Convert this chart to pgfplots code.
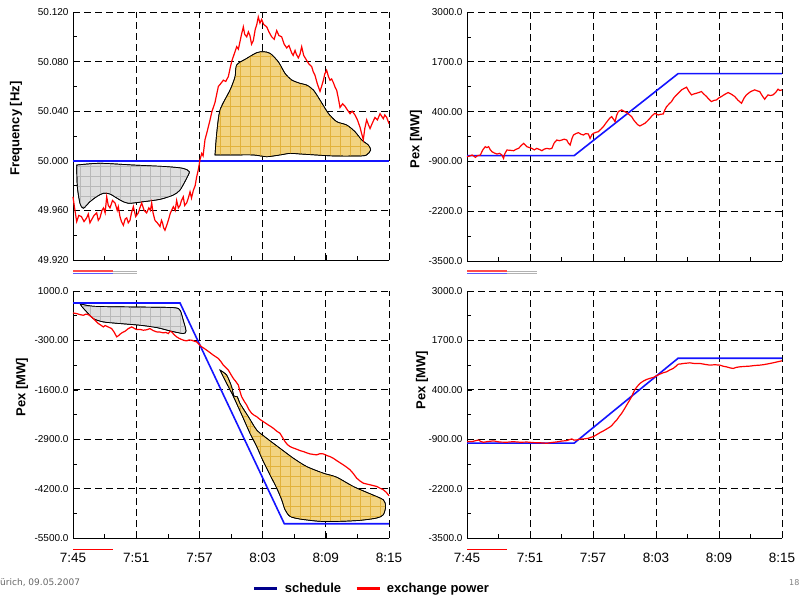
\documentclass[border=0pt]{standalone}
\usepackage{pgfplots}
\pgfplotsset{compat=1.18}
\usepackage{fontspec}
\setmainfont{Liberation Sans}
\newfontfamily\footfont{DejaVu Sans}
\usetikzlibrary{patterns.meta}
\definecolor{schedblue}{RGB}{20,20,255}
\definecolor{exred}{RGB}{255,0,0}
\definecolor{navyleg}{RGB}{0,0,140}
\definecolor{goldfill}{RGB}{242,212,130}
\definecolor{goldgrid}{RGB}{226,178,60}
\definecolor{grayfill}{RGB}{222,222,222}
\definecolor{graygrid}{RGB}{185,185,185}
\pgfplotsset{
  panel/.style={
    scale only axis, anchor=north west,
    xmin=0, xmax=30, xtick={0,6,...,30},
    minor x tick num=1, minor y tick num=1,
    axis x line*=bottom, axis y line*=left,
    axis line style={black, line width=0.9pt},
    grid=major,
    major grid style={black, dash pattern=on 7pt off 4pt, line width=0.7pt},
    tick style={black, line width=0.6pt},
    tick align=inside, major tick length=5pt, minor tick length=4pt,
    y tick label style={font=\fontsize{10}{12}\selectfont, xshift=-1pt},
    x tick label style={font=\fontsize{13.5}{15}\selectfont, yshift=-12pt},
    ylabel style={font=\bfseries\fontsize{13}{15}\selectfont, anchor=center, rotate=0},
    clip=false,
  },
  sched/.style={schedblue, line width=1.6pt, forget plot},
  exch/.style={exred, line width=1.2pt, forget plot},
  goldblob/.style={draw=black, line width=0.7pt, fill=goldfill, smooth, tension=0.45, forget plot,
     postaction={pattern={Hatch[distance=10pt, angle=0, line width=0.6pt]}, pattern color=goldgrid}},
  grayblob/.style={draw=black, line width=0.7pt, fill=grayfill, smooth, tension=0.45, forget plot,
     postaction={pattern={Hatch[distance=10pt, angle=0, line width=0.6pt]}, pattern color=graygrid}},
}
\begin{document}
\begin{tikzpicture}
\useasboundingbox (0pt,0pt) rectangle (799pt,-596pt);

% ---------------- Panel 1: frequency ----------------
\begin{axis}[panel, at={(73pt,-12pt)}, width=316pt, height=248pt,
  ymin=49.92, ymax=50.12, ytick={49.92,49.96,50.00,50.04,50.08,50.12},
  yticklabels={49.920,49.960,50.000,50.040,50.080,50.120},
  xticklabels={},
  ylabel={Frequency [Hz]}, ylabel style={at={(axis description cs:-0.18,0.53)}}]
\addplot[grayblob] coordinates {
(0.35,49.9966)(2.56,49.9980)(5.73,49.9966)(8.89,49.9953)(10.47,49.9939)(11.04,49.9912)
(10.79,49.9859)(10.16,49.9764)(9.53,49.9724)(8.26,49.9689)(6.68,49.9670)(5.25,49.9657)
(4.46,49.9684)(3.51,49.9732)(2.88,49.9738)(2.25,49.9711)(1.61,49.9670)(0.98,49.9617)
(0.66,49.9657)(0.41,49.9791)(0.35,49.9966)} -- cycle;
\addplot[goldblob] coordinates {
(13.48,50.0047)(13.64,50.0221)(13.96,50.0410)(14.91,50.0571)(15.38,50.0678)(15.54,50.0773)
(16.49,50.0826)(17.44,50.0872)(18.07,50.0880)(18.70,50.0867)(19.49,50.0799)(20.13,50.0705)
(20.76,50.0652)(21.55,50.0625)(22.18,50.0611)(22.82,50.0571)(23.45,50.0490)(24.24,50.0383)
(25.03,50.0316)(25.98,50.0289)(26.77,50.0235)(27.41,50.0168)(28.04,50.0127)(28.26,50.0087)
(27.88,50.0047)(27.25,50.0039)(24.72,50.0039)(21.55,50.0055)(20.60,50.0060)(19.65,50.0047)
(18.39,50.0033)(17.12,50.0047)(15.22,50.0047)(13.48,50.0047)} -- cycle;
\addplot[sched] coordinates {(0,50.0)(30,50.0)};
\addplot[exch] coordinates {
(0,49.971)(0.15,49.962)(0.35,49.951)(0.55,49.956)(0.8,49.955)(1.05,49.951)(1.30,49.954)
(1.45,49.957)(1.61,49.950)(1.8,49.953)(2.0,49.956)(2.25,49.958)(2.4,49.952)(2.56,49.954)
(2.75,49.960)(2.9,49.962)(3.05,49.958)(3.20,49.971)(3.35,49.964)(3.51,49.962)(3.75,49.968)
(3.99,49.966)(4.2,49.960)(4.3,49.963)(4.46,49.955)(4.6,49.951)(4.78,49.948)(4.95,49.953)
(5.1,49.954)(5.25,49.950)(5.41,49.952)(5.55,49.958)(5.73,49.963)(5.95,49.955)(6.20,49.958)
(6.35,49.962)(6.52,49.966)(6.75,49.960)(6.99,49.958)(7.2,49.962)(7.35,49.960)(7.47,49.966)
(7.6,49.958)(7.78,49.952)(8.0,49.950)(8.26,49.947)(8.4,49.952)(8.5,49.950)(8.6,49.946)
(8.73,49.944)(8.9,49.948)(9.05,49.952)(9.25,49.958)(9.53,49.963)(9.7,49.960)(9.84,49.968)
(10.0,49.962)(10.16,49.964)(10.3,49.968)(10.47,49.971)(10.6,49.964)(10.79,49.966)
(10.95,49.970)(11.11,49.975)(11.25,49.970)(11.42,49.976)(11.6,49.980)(11.74,49.987)
(11.9,49.993)(12.06,50.001)(12.22,50.006)(12.35,50.004)(12.53,50.017)(12.75,50.024)
(13.01,50.033)(13.2,50.040)(13.48,50.047)(13.6,50.052)(13.80,50.060)(14.0,50.062)
(14.27,50.065)(14.5,50.064)(14.75,50.068)(14.9,50.074)(15.06,50.080)(15.3,50.086)
(15.54,50.092)(15.7,50.090)(15.85,50.096)(16.0,50.102)(16.17,50.108)(16.3,50.102)
(16.49,50.100)(16.65,50.104)(16.80,50.101)(16.95,50.094)(17.12,50.097)(17.3,50.106)
(17.45,50.110)(17.59,50.116)(17.75,50.111)(17.91,50.114)(18.1,50.110)(18.39,50.108)
(18.6,50.104)(18.86,50.100)(19.1,50.098)(19.34,50.105)(19.55,50.101)(19.81,50.100)
(20.05,50.094)(20.29,50.091)(20.5,50.093)(20.76,50.087)(20.9,50.085)(21.08,50.089)
(21.2,50.086)(21.39,50.083)(21.55,50.086)(21.71,50.092)(21.9,50.085)(22.18,50.081)
(22.4,50.078)(22.66,50.076)(22.8,50.072)(22.97,50.069)(23.2,50.062)(23.45,50.056)
(23.6,50.060)(23.77,50.065)(23.9,50.070)(24.08,50.073)(24.25,50.068)(24.40,50.065)
(24.55,50.066)(24.72,50.063)(24.9,50.059)(25.03,50.057)(25.2,50.050)(25.35,50.043)
(25.6,50.046)(25.82,50.044)(26.05,50.041)(26.30,50.038)(26.5,50.040)(26.77,50.037)
(27.0,50.033)(27.25,50.027)(27.4,50.022)(27.56,50.017)(27.7,50.026)(27.88,50.033)
(28.05,50.029)(28.20,50.026)(28.45,50.031)(28.67,50.035)(28.9,50.033)(29.15,50.038)
(29.3,50.036)(29.46,50.034)(29.6,50.037)(29.78,50.035)(30.00,50.030)};
\end{axis}

% ---------------- Panel 2: top right ----------------
\begin{axis}[panel, at={(467pt,-12pt)}, width=315pt, height=249pt,
  ymin=-3500, ymax=3000, ytick={-3500,-2200,-900,400,1700,3000},
  yticklabels={-3500.0,-2200.0,-900.00,400.00,1700.0,3000.0},
  xticklabels={},
  ylabel={Pex [MW]}, ylabel style={at={(axis description cs:-0.162,0.49)}}]
\addplot[sched] coordinates {(0,-750)(10.2,-750)(20.1,1390)(30,1390)};
\addplot[exch] coordinates {
(0,-778)(0.25,-760)(0.48,-734)(0.65,-760)(0.79,-795)(1.0,-750)(1.27,-734)(1.5,-600)
(1.74,-516)(1.9,-540)(2.06,-516)(2.2,-590)(2.38,-647)(2.6,-680)(2.85,-708)(3.1,-690)
(3.33,-734)(3.48,-821)(3.6,-700)(3.80,-603)(4.1,-610)(4.44,-621)(4.7,-580)(4.91,-560)
(5.15,-490)(5.39,-429)(5.55,-470)(5.70,-516)(5.95,-540)(6.18,-560)(6.4,-600)(6.65,-560)
(6.9,-590)(7.13,-621)(7.35,-580)(7.60,-560)(7.85,-575)(8.08,-560)(8.3,-420)(8.55,-342)
(8.8,-360)(9.03,-342)(9.25,-320)(9.50,-342)(9.65,-420)(9.82,-473)(10.0,-300)(10.14,-211)
(10.4,-170)(10.61,-150)(10.85,-190)(11.09,-211)(11.3,-175)(11.56,-185)(11.72,-298)
(11.9,-200)(12.04,-167)(12.3,-140)(12.51,-124)(12.75,-60)(12.99,7)(13.2,90)(13.46,182)
(13.6,230)(13.78,269)(13.95,200)(14.10,138)(14.25,300)(14.41,400)(14.55,420)(14.73,444)
(14.95,410)(15.21,374)(15.45,320)(15.68,269)(15.85,190)(16.00,138)(16.25,60)(16.47,25)
(16.7,60)(16.95,95)(17.2,160)(17.42,226)(17.65,300)(17.90,356)(18.05,330)(18.22,313)
(18.45,330)(18.69,339)(18.85,450)(19.01,531)(19.25,600)(19.48,662)(19.7,760)(19.96,836)
(20.2,900)(20.43,967)(20.65,1000)(20.91,1037)(21.15,920)(21.38,836)(21.6,860)(21.86,880)
(22.1,900)(22.33,923)(22.55,860)(22.81,793)(23.05,720)(23.28,662)(23.5,690)(23.76,705)
(24.0,760)(24.23,793)(24.55,850)(24.87,897)(25.2,850)(25.50,793)(25.8,700)(26.14,618)
(26.4,760)(26.61,836)(27.0,920)(27.40,967)(27.65,940)(27.88,923)(28.1,820)(28.35,723)
(28.5,780)(28.67,836)(28.9,820)(29.14,836)(29.4,900)(29.62,985)(29.8,950)(30,967)};
\end{axis}

% ---------------- Panel 3: bottom left ----------------
\begin{axis}[panel, at={(73pt,-291pt)}, width=316pt, height=247pt,
  ymin=-5500, ymax=1000, ytick={-5500,-4200,-2900,-1600,-300,1000},
  yticklabels={-5500.0,-4200.0,-2900.0,-1600.0,-300.00,1000.0},
  xticklabels={7:45,7:51,7:57,8:03,8:09,8:15},
  ylabel={Pex [MW]}, ylabel style={at={(axis description cs:-0.161,0.61)}},
  legend columns=2,
  legend style={at={(axis description cs:0.946,-0.206)}, anchor=center, draw=none, fill=none,
    font=\bfseries\fontsize{13}{15}\selectfont,
    /tikz/every odd column/.append style={column sep=4pt},
    /tikz/every even column/.append style={column sep=12pt}},
  legend image code/.code={\draw[#1, line width=2.8pt] (0pt,0pt) -- (23pt,0pt);}]
\addlegendimage{navyleg}\addlegendentry{schedule}
\addlegendimage{exred}\addlegendentry{exchange power}
\addplot[grayblob] coordinates {
(0.66,668)(1.93,598)(5.73,580)(9.53,563)(10.16,493)(10.47,230)(10.73,-50)(10.47,-120)
(9.21,-50)(7.94,38)(6.36,99)(4.46,143)(2.88,186)(1.93,274)(1.30,449)(0.82,598)(0.66,668)} -- cycle;
\addplot[goldblob] coordinates {
(13.96,-1082)(14.59,-1213)(15.06,-1519)(15.28,-1764)(15.60,-1782)(15.85,-1957)(16.65,-2307)
(17.44,-2657)(18.39,-2875)(19.65,-3138)(20.92,-3400)(22.18,-3619)(23.77,-3794)(25.03,-3899)
(26.61,-4144)(28.20,-4336)(29.46,-4494)(29.68,-4669)(29.46,-4888)(28.83,-4975)(27.25,-5036)
(25.35,-5062)(23.45,-5062)(21.55,-5001)(20.60,-4931)(20.13,-4756)(19.81,-4494)(19.34,-4188)
(18.70,-3838)(18.07,-3488)(17.44,-3094)(16.80,-2744)(16.17,-2351)(15.60,-2001)(15.16,-1738)
(14.59,-1432)(14.11,-1170)(13.96,-1082)} -- cycle;
\addplot[sched] coordinates {(0,685)(10.16,685)(20.06,-5124)(30,-5124)};
\addplot[exch] coordinates {
(0,423)(0.35,405)(0.65,380)(0.98,361)(1.2,390)(1.46,379)(1.7,330)(1.93,274)(2.2,200)
(2.41,143)(2.6,110)(2.88,55)(3.05,90)(3.20,73)(3.45,40)(3.67,11)(3.9,-80)(4.15,-207)
(4.3,-180)(4.46,-137)(4.7,-90)(4.94,-59)(5.25,10)(5.57,55)(5.8,20)(6.04,-15)(6.35,-10)
(6.68,-32)(7.0,-20)(7.31,11)(7.6,-40)(7.94,-76)(8.25,-80)(8.58,-102)(8.8,-90)(9.05,-120)
(9.2,-60)(9.37,-76)(9.6,-150)(9.84,-207)(10.1,-250)(10.32,-277)(10.55,-300)(10.79,-312)
(11.0,-290)(11.27,-295)(11.5,-320)(11.74,-338)(12.0,-410)(12.22,-470)(12.45,-510)
(12.69,-557)(13.0,-620)(13.32,-688)(13.55,-730)(13.80,-776)(14.05,-860)(14.27,-951)
(14.5,-1010)(14.75,-1082)(15.0,-1200)(15.22,-1301)(15.45,-1380)(15.70,-1476)(15.85,-1640)
(16.01,-1782)(16.25,-1900)(16.49,-2001)(16.7,-2120)(16.96,-2219)(17.2,-2270)(17.44,-2307)
(17.75,-2380)(18.07,-2438)(18.3,-2480)(18.54,-2526)(18.8,-2570)(19.02,-2613)(19.35,-2690)
(19.65,-2744)(19.9,-2860)(20.13,-2963)(20.35,-3040)(20.60,-3094)(20.9,-3130)(21.24,-3164)
(21.55,-3200)(21.87,-3225)(22.2,-3260)(22.50,-3287)(22.8,-3300)(23.13,-3313)(23.45,-3280)
(23.77,-3287)(24.1,-3330)(24.40,-3357)(24.7,-3400)(25.03,-3462)(25.35,-3520)(25.66,-3575)
(26.0,-3640)(26.30,-3706)(26.6,-3800)(26.93,-3925)(27.25,-4000)(27.56,-4057)(27.9,-4080)
(28.20,-4100)(28.5,-4120)(28.83,-4144)(29.15,-4190)(29.46,-4231)(29.75,-4300)(30,-4389)};
\end{axis}

% ---------------- Panel 4: bottom right ----------------
\begin{axis}[panel, at={(467pt,-291pt)}, width=315pt, height=247pt,
  ymin=-3500, ymax=3000, ytick={-3500,-2200,-900,400,1700,3000},
  yticklabels={-3500.0,-2200.0,-900.00,400.00,1700.0,3000.0},
  xticklabels={7:45,7:51,7:57,8:03,8:09,8:15},
  ylabel={Pex [MW]}, ylabel style={at={(axis description cs:-0.143,0.64)}}]
\addplot[sched] coordinates {(0,-1005)(10.2,-1005)(20.1,1230)(30,1230)};
\addplot[exch] coordinates {
(0,-963)(0.48,-963)(0.8,-940)(1.11,-919)(1.3,-960)(1.58,-980)(2.0,-960)(2.53,-945)
(3.1,-975)(3.80,-980)(4.4,-965)(5.07,-980)(5.7,-975)(6.34,-989)(7.0,-995)(7.60,-1007)
(8.1,-985)(8.55,-972)(9.0,-950)(9.50,-937)(9.98,-893)(10.2,-925)(10.45,-919)(10.7,-900)
(10.93,-893)(11.25,-890)(11.56,-875)(11.8,-850)(12.04,-832)(12.35,-780)(12.67,-727)
(13.0,-680)(13.31,-630)(13.55,-590)(13.78,-543)(14.0,-470)(14.26,-394)(14.5,-300)
(14.73,-219)(15.0,-100)(15.21,0)(15.45,110)(15.68,218)(15.85,330)(16.00,411)(16.25,500)
(16.47,568)(16.8,630)(17.11,673)(17.4,700)(17.74,725)(18.05,770)(18.37,813)(18.7,850)
(19.01,874)(19.3,920)(19.64,962)(19.9,1020)(20.12,1075)(20.35,1080)(20.59,1093)(20.9,1100)
(21.22,1110)(21.7,1090)(22.18,1093)(22.65,1070)(23.13,1049)(23.6,1060)(24.08,1049)
(24.4,1020)(24.71,1005)(25.0,980)(25.34,962)(25.65,990)(25.98,1005)(26.45,1015)(26.93,1023)
(27.4,1040)(27.88,1049)(28.2,1060)(28.51,1075)(28.8,1090)(29.14,1110)(29.55,1135)(30,1163)};
\end{axis}

% decorative remnants and footer
\draw[exred!70, line width=1.3pt] (73pt,-271pt) -- (113pt,-271pt);
\draw[schedblue!70, line width=1.3pt] (73pt,-273.8pt) -- (113pt,-273.8pt);
\draw[gray!60, line width=0.4pt] (113pt,-271pt) -- (137pt,-271pt) (113pt,-273pt) -- (137pt,-273pt);
\draw[exred!70, line width=1.3pt] (467pt,-271pt) -- (507pt,-271pt);
\draw[schedblue!70, line width=1.3pt] (467pt,-273.8pt) -- (507pt,-273.8pt);
\draw[gray!60, line width=0.4pt] (507pt,-271pt) -- (537pt,-271pt) (507pt,-273pt) -- (537pt,-273pt);
\draw[exred, line width=0.7pt] (73pt,-549pt) -- (113pt,-549pt);
\draw[exred, line width=0.7pt] (467pt,-549pt) -- (507pt,-549pt);
\node[anchor=west, inner sep=0pt, text=gray!80!black, font=\footfont\fontsize{9}{10}\selectfont] at (0pt,-583pt) {ürich, 09.05.2007};
\node[anchor=west, inner sep=0pt, text=gray, font=\footfont\fontsize{8}{9}\selectfont] at (789pt,-583pt) {18};
\end{tikzpicture}
\end{document}
